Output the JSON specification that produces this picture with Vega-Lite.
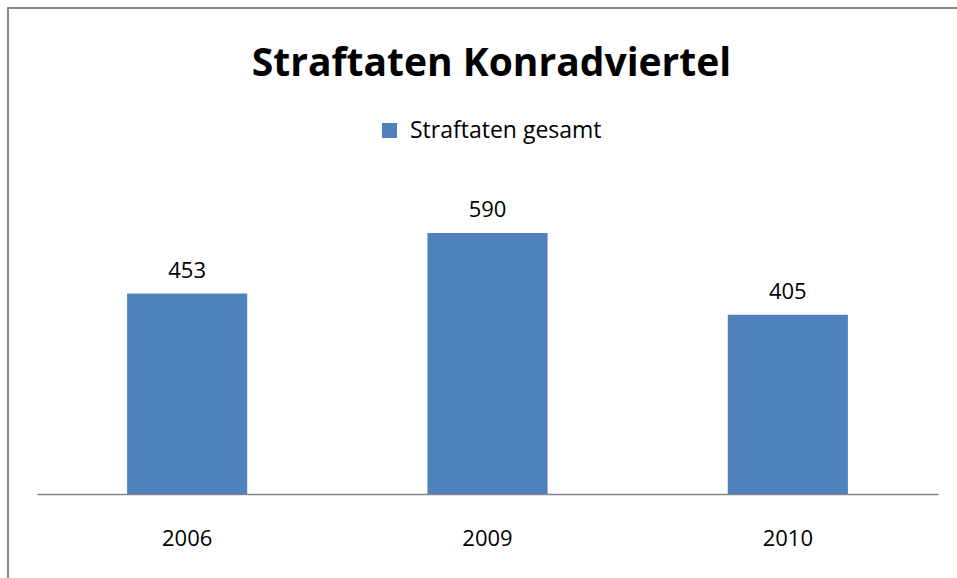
{
  "$schema": "https://vega.github.io/schema/vega-lite/v6.json",
  "width": 949,
  "height": 570,
  "autosize": "none",
  "padding": {"left": 8, "top": 8, "right": 0, "bottom": 0},
  "background": "white",
  "config": {
    "view": {"stroke": "#898989", "strokeWidth": 2, "strokeDash": [949, 1519, 570, 10]},
    "axisY": {"disable": true},
    "font": "Open Sans"
  },
  "title": {
    "text": "Straftaten Konradviertel",
    "font": "Open Sans",
    "fontSize": 39,
    "fontWeight": "bold",
    "color": "#000000",
    "anchor": "middle",
    "frame": "group",
    "baseline": "alphabetic",
    "offset": -107,
    "dx": 9
  },
  "data": {
    "values": [
      {"Jahr": "2006", "Straftaten": 453, "Serie": "Straftaten gesamt"},
      {"Jahr": "2009", "Straftaten": 590, "Serie": "Straftaten gesamt"},
      {"Jahr": "2010", "Straftaten": 405, "Serie": "Straftaten gesamt"}
    ]
  },
  "encoding": {
    "x": {
      "field": "Jahr",
      "type": "nominal",
      "sort": null,
      "scale": {"range": [29, 930], "paddingInner": 0.6, "paddingOuter": 0.3},
      "axis": {
        "orient": "bottom",
        "offset": -84,
        "title": null,
        "domain": true,
        "domainColor": "#868686",
        "domainWidth": 1.5,
        "ticks": false,
        "tickSize": 0,
        "grid": false,
        "labelAngle": 0,
        "labelFont": "Open Sans",
        "labelFontSize": 22,
        "labelColor": "#000000",
        "labelBaseline": "alphabetic",
        "labelPadding": 51
      }
    },
    "y": {
      "field": "Straftaten",
      "type": "quantitative",
      "scale": {"domain": [-189.9, 1098.6], "nice": false, "zero": false}
    }
  },
  "layer": [
    {
      "mark": {"type": "bar", "color": "#4F81BD"},
      "encoding": {
        "y2": {"datum": 0},
        "color": {
          "field": "Serie",
          "type": "nominal",
          "scale": {"range": ["#4F81BD"]},
          "legend": {
            "orient": "none",
            "legendX": 370,
            "legendY": 111,
            "title": null,
            "padding": 0,
            "symbolType": "square",
            "symbolSize": 225,
            "symbolStrokeWidth": 0,
            "labelFont": "Open Sans",
            "labelFontSize": 23,
            "labelColor": "#000000",
            "labelOffset": 9,
            "labelLimit": 400
          }
        }
      }
    },
    {
      "mark": {
        "type": "text",
        "baseline": "alphabetic",
        "dy": -16,
        "font": "Open Sans",
        "fontSize": 22,
        "color": "#000000"
      },
      "encoding": {
        "text": {"field": "Straftaten", "type": "quantitative"}
      }
    }
  ]
}
